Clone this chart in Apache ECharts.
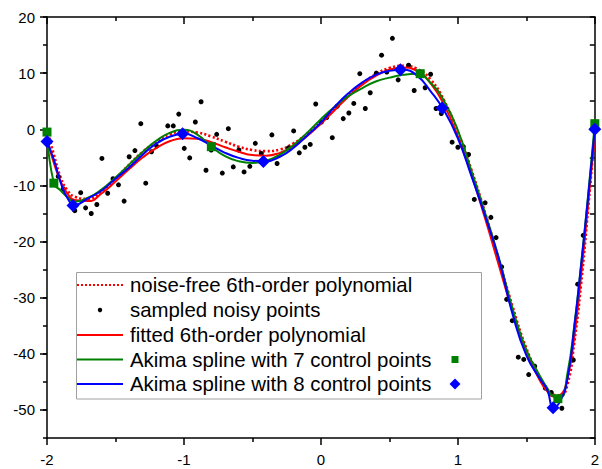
<!DOCTYPE html>
<html><head><meta charset="utf-8">
<script src="https://cdn.jsdelivr.net/npm/echarts@6/dist/echarts.min.js"></script>
<style>html,body{margin:0;padding:0;background:#fff}#c{width:602px;height:469px}</style>
</head><body><div id="c"></div>
<script>
// ---- data ----
const curveX = [-2, -1.95, -1.9, -1.85, -1.8, -1.7, -1.6, -1.5, -1.4, -1.3, -1.2, -1.1, -1.0, -0.9, -0.8, -0.7, -0.6, -0.5, -0.4, -0.3, -0.2, -0.1, 0, 0.1, 0.2, 0.3, 0.4, 0.5, 0.6, 0.7, 0.8, 0.9, 1.0, 1.1, 1.2, 1.3, 1.4, 1.5, 1.6, 1.65, 1.7, 1.75, 1.8, 1.85, 1.9, 1.95, 2.0];
const noiseFreeY = [0.0, -4.5, -8.6, -10.9, -12.0, -12.4, -11.0, -8.8, -6.3, -4.0, -2.2, -0.9, -0.4, -0.6, -1.3, -2.2, -3.1, -3.7, -3.9, -3.6, -2.5, -0.8, 1.3, 3.6, 6.0, 8.1, 9.8, 10.9, 11.3, 10.8, 8.9, 5.1, -0.5, -7.3, -15.0, -23.3, -31.6, -39.0, -44.3, -46.2, -47.3, -47.4, -45.5, -38.0, -27.5, -14.5, -0.5];
const fittedY = [-1.8, -6.0, -9.3, -11.5, -12.6, -12.8, -11.4, -9.3, -7.1, -5.0, -3.3, -2.1, -1.6, -1.7, -2.3, -3.2, -4.0, -4.6, -4.7, -4.2, -3.0, -1.2, 1.0, 3.4, 5.8, 7.9, 9.5, 10.6, 11.0, 10.4, 8.2, 4.3, -1.3, -8.2, -16.0, -24.3, -32.5, -39.6, -44.8, -46.6, -47.6, -47.3, -44.3, -37.0, -26.0, -13.5, -0.8];
const akima7Y = [-0.5, -9.6, -10.9, -12.1, -12.9, -12.2, -10.7, -8.6, -6.3, -4.0, -2.0, -0.6, -0.1, -1.0, -3.1, -4.8, -5.7, -6.0, -5.6, -4.5, -2.8, -0.6, 1.8, 4.0, 5.9, 7.3, 8.5, 9.2, 9.7, 9.9, 8.3, 5.0, -0.2, -7.5, -15.0, -23.0, -32.0, -39.3, -44.0, -46.0, -47.6, -47.7, -43.5, -35.0, -24.0, -12.0, 1.0];
const akima8Y = [-2.2, -5.4, -9.5, -12.3, -13.5, -12.3, -10.9, -8.8, -6.8, -4.5, -2.5, -1.3, -0.8, -1.6, -2.9, -4.2, -5.1, -5.6, -5.7, -4.9, -3.3, -1.1, 1.2, 4.0, 6.4, 8.3, 9.7, 10.4, 10.6, 9.6, 6.8, 3.3, -1.6, -8.4, -15.5, -23.2, -33.0, -40.3, -44.5, -46.3, -49.6, -48.3, -44.5, -35.3, -24.2, -12.3, 0.0];
const ctrl7X = [-2.0, -1.95, -0.8, 0.725, 1.73, 2.0];
const ctrl7Y = [-0.5, -9.6, -3.1, 9.9, -48.0, 1.0];
const ctrl8X = [-2.0, -1.81, -1.01, -0.42, 0.58, 0.885, 1.695, 2.0];
const ctrl8Y = [-2.2, -13.6, -0.8, -5.75, 10.6, 3.8, -49.6, 0.0];
const noisyX = [-1.918,-1.882,-1.797,-1.754,-1.718,-1.677,-1.636,-1.599,-1.557,-1.518,-1.478,-1.437,-1.400,-1.358,-1.315,-1.279,-1.237,-1.199,-1.118,-1.078,-1.038,-0.998,-0.958,-0.917,-0.875,-0.839,-0.801,-0.761,-0.720,-0.676,-0.640,-0.599,-0.561,-0.519,-0.479,-0.435,-0.358,-0.320,-0.237,-0.199,-0.158,-0.117,-0.078,-0.038,0.004,0.042,0.083,0.119,0.163,0.204,0.240,0.284,0.324,0.360,0.404,0.443,0.481,0.522,0.564,0.640,0.681,0.761,0.801,0.841,0.879,0.958,1.000,1.040,1.078,1.120,1.199,1.241,1.279,1.320,1.356,1.397,1.441,1.481,1.517,1.561,1.638,1.682,1.759,1.843,1.875,1.915];
const noisyY = [-8.4,-10.6,-14.5,-11.3,-14.0,-15.0,-13.4,-5.2,-11.4,-8.8,-9.9,-12.8,-4.9,-3.8,1.0,-9.6,-4.0,-3.0,0.6,0.6,2.7,-3.4,-5.1,1.3,4.9,-7.3,-3.7,-0.9,-7.8,0.1,-6.7,-3.7,-7.6,-6.6,-2.5,-4.3,-1.0,-6.1,-3.3,-0.3,-4.2,-3.2,-2.7,4.5,1.3,2.1,-1.5,4.1,1.9,2.9,4.6,9.9,3.7,6.5,10.0,13.2,10.2,16.2,8.8,11.4,6.9,7.4,9.8,3.7,2.8,-2.3,-3.2,-3.1,-4.5,-12.5,-13.1,-15.7,-19.3,-24.5,-30.3,-34.1,-40.6,-41.0,-43.7,-42.2,-46.1,-46.9,-49.7,-41.1,-27.6,-18.9];
const legendLabels = ['noise-free 6th-order polynomial', 'sampled noisy points', 'fitted 6th-order polynomial', 'Akima spline with 7 control points', 'Akima spline with 8 control points'];

// ---- styles ----
const FONT = '"Liberation Sans", Arial, sans-serif';
const RED = '#ff0000', GREEN = '#008000', BLUE = '#0000ff';
const pairs = (xs, ys) => xs.map((x, i) => [x, ys[i]]);
const axLine = { show: true, onZero: false, lineStyle: { color: '#000', width: 1.5 } };
const tickLS = { color: '#000', width: 1.5 };

const chart = echarts.init(document.getElementById('c'), null, { renderer: 'svg' });

// legend drawn as graphic
const rowY = [285, 310, 335, 359.5, 384];
const legendEls = [{
  type: 'rect', z: 100, shape: { x: 76.5, y: 272.5, width: 405, height: 126.5 },
  style: { fill: '#fff', stroke: '#a0a0a0', lineWidth: 1 }
}];
const sampleStyles = [
  { stroke: RED, lineWidth: 2.2, lineDash: [2, 2] }, null,
  { stroke: RED, lineWidth: 2 }, { stroke: GREEN, lineWidth: 2 }, { stroke: BLUE, lineWidth: 2 }
];
legendLabels.forEach((lab, i) => {
  const y = rowY[i];
  if (sampleStyles[i]) {
    legendEls.push({ type: 'line', z: 101, shape: { x1: 77, y1: y, x2: 123, y2: y }, style: sampleStyles[i] });
  } else {
    legendEls.push({ type: 'circle', z: 101, shape: { cx: 100, cy: y, r: 2.2 }, style: { fill: '#000' } });
  }
  legendEls.push({ type: 'text', z: 101, x: 130, y: y, style: { text: lab, fill: '#000', fontSize: 20.4, fontFamily: FONT, verticalAlign: 'middle', align: 'left' } });
});
legendEls.push({ type: 'rect', z: 101, shape: { x: 451.5, y: rowY[3] - 3.5, width: 7, height: 7 }, style: { fill: GREEN } });
legendEls.push({ type: 'polygon', z: 101, shape: { points: [[455, rowY[4] - 5.5], [460.5, rowY[4]], [455, rowY[4] + 5.5], [449.5, rowY[4]]] }, style: { fill: BLUE } });

chart.setOption({
  animation: false,
  backgroundColor: '#fff',
  grid: [
    { left: 47, right: 2, top: 17, bottom: 31 },
    { left: 47, right: 2, top: 17, bottom: 59.07 }
  ],
  xAxis: [
    { type: 'value', gridIndex: 0, position: 'bottom', min: -2, max: 2, interval: 1,
      axisLine: axLine, axisTick: { length: 7, lineStyle: tickLS },
      minorTick: { show: true, splitNumber: 2, length: 4, lineStyle: tickLS },
      splitLine: { show: false }, minorSplitLine: { show: false },
      axisLabel: { fontSize: 15, color: '#000', fontFamily: FONT, margin: 14 } },
    { type: 'value', gridIndex: 0, position: 'top', min: -2, max: 2, interval: 1,
      axisLine: axLine, axisTick: { inside: true, length: 7, lineStyle: tickLS },
      minorTick: { show: true, splitNumber: 2, length: 4, lineStyle: tickLS },
      splitLine: { show: false }, axisLabel: { show: false } },
    { type: 'value', gridIndex: 1, min: -2, max: 2, show: false }
  ],
  yAxis: [
    { type: 'value', gridIndex: 0, position: 'left', min: -55, max: 20, interval: 5,
      axisLine: axLine, axisTick: { length: 4, lineStyle: tickLS },
      axisLabel: { show: false }, splitLine: { show: false } },
    { type: 'value', gridIndex: 0, position: 'right', min: -55, max: 20, interval: 5,
      axisLine: axLine, axisTick: { inside: true, length: 5, lineStyle: tickLS },
      axisLabel: { show: false }, splitLine: { show: false } },
    { type: 'value', gridIndex: 1, position: 'left', min: -50, max: 20, interval: 10,
      axisLine: { show: false, onZero: false }, axisTick: { length: 7, lineStyle: tickLS },
      axisLabel: { fontSize: 15, color: '#000', fontFamily: FONT, margin: 12 },
      splitLine: { show: false } }
  ],
  series: [
    { name: legendLabels[0], type: 'line', data: pairs(curveX, noiseFreeY), symbol: 'none', smooth: 0.5,
      lineStyle: { color: RED, width: 2.6, type: [2.2, 2.2] }, silent: true, z: 2 },
    { name: legendLabels[1], type: 'scatter', data: pairs(noisyX, noisyY), symbolSize: 5,
      itemStyle: { color: '#000', opacity: 1 }, silent: true, z: 3 },
    { name: legendLabels[2], type: 'line', data: pairs(curveX, fittedY), symbol: 'none', smooth: 0.5,
      lineStyle: { color: RED, width: 2 }, silent: true, z: 4 },
    { name: legendLabels[3], type: 'line', data: pairs(curveX, akima7Y), symbol: 'none', smooth: 0.5,
      lineStyle: { color: GREEN, width: 2 }, silent: true, z: 5 },
    { name: legendLabels[4], type: 'line', data: pairs(curveX, akima8Y), symbol: 'none', smooth: 0.5,
      lineStyle: { color: BLUE, width: 2 }, silent: true, z: 6 },
    { name: 'Akima 7 control points', type: 'scatter', data: pairs(ctrl7X, ctrl7Y), symbol: 'rect', symbolSize: 9,
      itemStyle: { color: GREEN, opacity: 1 }, silent: true, z: 7 },
    { name: 'Akima 8 control points', type: 'scatter', data: pairs(ctrl8X, ctrl8Y), symbol: 'diamond', symbolSize: 13,
      itemStyle: { color: BLUE, opacity: 1 }, silent: true, z: 8 }
  ],
  graphic: legendEls
});
</script>
</body></html>
